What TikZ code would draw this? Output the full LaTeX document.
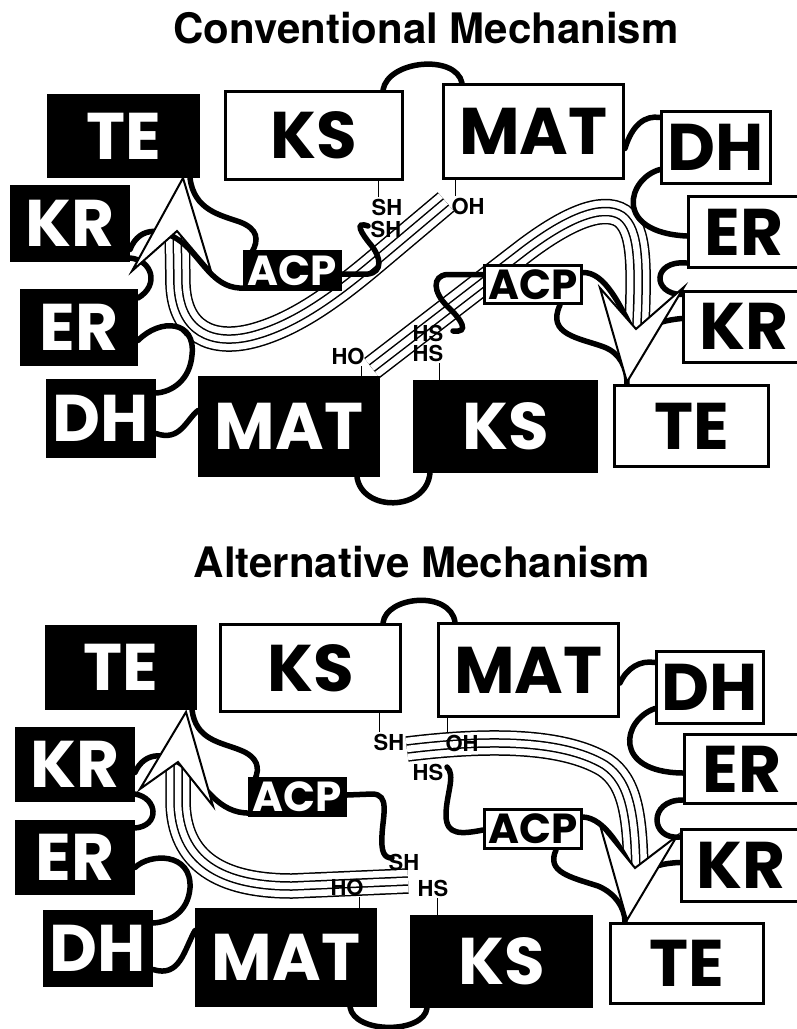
\documentclass[tikz,border=0pt]{standalone}
\usepackage{fontspec}
\setmainfont{TeX Gyre Heros}
\newfontfamily\domfont{Poppins}
\usetikzlibrary{calc}

\tikzset{
  dom/.style={line width=3pt, inner sep=0pt, font=\domfont\bfseries\fontsize{66}{66}\selectfont},
  wdom/.style={dom, draw=black, fill=white, text=black},
  bdom/.style={dom, draw=black, fill=black, text=white},
  domtext/.style={inner sep=0pt, font=\domfont\bfseries\fontsize{66}{66}\selectfont},
  acpdom/.style={font=\domfont\bfseries\fontsize{42}{42}\selectfont},
  tether/.style={line width=5.5pt, line cap=round},
  tick/.style={line width=1pt},
  thiol/.style={font=\bfseries\fontsize{22}{22}\selectfont, inner sep=0pt},
  heading/.style={font=\bfseries\fontsize{42}{42}\selectfont},
  pointer/.style={draw=black, fill=white, line width=2pt, line join=miter},
}

% four parallel thin strands following one centre line
\newcommand\strands[1]{%
  \draw[line width=25.5pt] #1;
  \draw[white, line width=22.5pt] #1;
  \draw[line width=9.5pt] #1;
  \draw[white, line width=6.5pt] #1;
}

\begin{document}
\begin{tikzpicture}[x=1pt, y=-1pt]
\useasboundingbox (0,0) rectangle (796,1029);
\fill[white] (0,0) rectangle (796,1029);

% ================= upper panel =================
\node[heading] (ttl1) at (426,28) {Conventional Mechanism};

% strands
\strands{(177,222) -- (178,285) .. controls (180,332) and (212,346) .. (252,336) .. controls (295,325) and (335,295) .. (370,266) -- (446,202)}
\strands{(372,368) -- (520,254) .. controls (565,219) and (602,203) .. (622,216) .. controls (640,230) and (640,265) .. (636,345)}

% domain boxes
\node[bdom, minimum width=150pt, minimum height=81pt] (te1b) at (123.5,136) {TE};
\node[wdom, minimum width=177pt, minimum height=88pt] (ks1w) at (314,135.5) {KS};
\node[wdom, minimum width=180pt, minimum height=94pt] (mat1w) at (533.5,131.5) {MAT};
\node[wdom, minimum width=109pt, minimum height=72pt] (dh1w) at (716,147.5) {DH};
\node[wdom, minimum width=130pt, minimum height=71pt] (er1w) at (753,232) {};
\node[domtext] (er1t) at (744,232) {ER};
\node[wdom, minimum width=135pt, minimum height=71pt] (kr1w) at (750.5,326.5) {};
\node[domtext] (kr1t) at (744,326.5) {KR};
\node[wdom, minimum width=154pt, minimum height=81pt] (te1w) at (691.5,426) {TE};
\node[bdom, minimum width=182pt, minimum height=90pt] (ks1b) at (505.5,426.5) {KS};
\node[bdom, minimum width=179pt, minimum height=98pt] (mat1b) at (289,426.5) {MAT};
\node[bdom, minimum width=107pt, minimum height=76pt] (dh1b) at (101,418.5) {DH};
\node[bdom, minimum width=115pt, minimum height=74pt] (er1b) at (79,327.5) {ER};
\node[bdom, minimum width=117pt, minimum height=74pt] (kr1b) at (70,223.5) {KR};

% arrow-head corners
\coordinate (n1l) at (177,231);
\coordinate (n1r) at (636,329);

% linkers
\draw[tether] ($(ks1w.north east)+(-21,0)$) .. controls (388,60) and (456,54) .. ($(mat1w.north west)+(20,0)$);
\draw[tether] ($(mat1w.east)+(0,17)$) .. controls (632,125) and (645,115) .. ($(dh1w.west)+(0,-30)$);
\draw[tether] ($(dh1w.west)+(0,22)$) .. controls (628,178) and (612,232) .. ($(er1w.west)+(0,4)$);
\draw[tether] ($(er1w.south west)+(0,-6)$) .. controls (652,260) and (652,294) .. ($(kr1w.north west)+(0,5)$);
\draw[tether] ($(kr1w.west)+(0,-8)$) .. controls (668,320) and (652,322) .. ($(n1r)+(0,8)$);
\draw[tether] (583,272.5) .. controls (605,272) and (620,305) .. ($(n1r)+(0,8)$);
\draw[tether] (560,305) .. controls (546,335) and (580,338) .. (604,347) .. controls (620,353) and (627,368) .. ($(te1w.north west)+(14,0)$);
\draw[tether] (483,274.5) -- (447,274.5) .. controls (432,276) and (433,292) .. (447,306) .. controls (462,320) and (470,333) .. (453,331);
\draw[tether] (342,274) -- (368,274) .. controls (383,272) and (381,257) .. (371,245) .. controls (361,233) and (354,221) .. (368,226);
\draw[tether] ($(te1b.south east)+(-10,0)$) .. controls (194,210) and (220,215) .. (240,222) .. controls (258,229) and (259,240) .. (252,252);
\draw[tether] ($(kr1b.east)+(0,26)$) .. controls (140,224) and (166,228) .. (185,245) .. controls (204,262) and (215,290) .. (245,288);
\draw[tether] ($(kr1b.south east)+(0,-4)$) .. controls (152,260) and (160,285) .. ($(er1b.north east)+(0,9)$);
\draw[tether] ($(er1b.east)+(0,13)$) .. controls (160,318) and (196,320) .. (192,355) .. controls (190,380) and (172,392) .. ($(dh1b.north east)+(0,14)$);
\draw[tether] ($(dh1b.east)+(0,15)$) .. controls (180,442) and (186,420) .. ($(mat1b.west)+(0,-16)$);
\draw[tether] ($(mat1b.south east)+(-23,0)$) .. controls (362,512) and (426,512) .. ($(ks1b.south west)+(17,0)$);

% carrier proteins
\node[bdom, acpdom, minimum width=96pt, minimum height=38pt] (acp1b) at (292.5,270.5) {ACP};
\node[wdom, acpdom, minimum width=97pt, minimum height=38pt] (acp1w) at (533,284.5) {ACP};

% thiol / hydroxyl labels
\node[thiol] (sh1) at (387,207) {SH};
\node[thiol] (sh1a) at (386,229) {SH};
\node[thiol] (oh1) at (468,206) {OH};
\node[thiol] (ho1) at (348,356) {HO};
\node[thiol] (hs1a) at (428,333) {HS};
\node[thiol] (hs1) at (428,353) {HS};
\coordinate (k1) at ($(sh1.north west)+(7,-2)$);
\draw[tick] (k1) -- (k1 |- ks1w.south);
\coordinate (k2) at ($(oh1.north west)+(4,-2)$);
\draw[tick] (k2) -- (k2 |- mat1w.south);
\coordinate (k3) at ($(ho1.south east)+(-3,2)$);
\draw[tick] (k3) -- (k3 |- mat1b.north);
\coordinate (k4) at ($(hs1.south east)+(-4,2)$);
\draw[tick] (k4) -- (k4 |- ks1b.north);

% movement arrow heads
\draw[pointer] ($(te1b.south east)+(-17,0)$) -- (211,271) -- (n1l) -- (132,271) -- cycle;
\draw[pointer] ($(te1w.north west)+(14,-2)$) -- (600,288) -- (n1r) -- (684,287) -- cycle;

% ================= lower panel =================
\node[heading] (ttl2) at (422,562) {Alternative Mechanism};

\strands{(178,752) -- (178,800) .. controls (178,862) and (222,886) .. (292,886) -- (408,881)}
\strands{(407,749) .. controls (480,740) and (560,738) .. (605,765) .. controls (630,782) and (636,815) .. (636,885)}

\node[bdom, minimum width=149pt, minimum height=82pt] (te2b) at (121,667.5) {TE};
\node[wdom, minimum width=180pt, minimum height=87pt] (ks2w) at (310.5,668) {KS};
\node[wdom, minimum width=180pt, minimum height=93pt] (mat2w) at (528.5,670) {MAT};
\node[wdom, minimum width=107pt, minimum height=72pt] (dh2w) at (710,687.5) {DH};
\node[wdom, minimum width=125pt, minimum height=69pt] (er2w) at (746.5,769) {};
\node[domtext] (er2t) at (742,769) {ER};
\node[wdom, minimum width=128pt, minimum height=72pt] (kr2w) at (745,865.5) {};
\node[domtext] (kr2t) at (741,865.5) {KR};
\node[wdom, minimum width=153pt, minimum height=80pt] (te2w) at (687,963.5) {TE};
\node[bdom, minimum width=180pt, minimum height=90pt] (ks2b) at (501.5,961.5) {KS};
\node[bdom, minimum width=179pt, minimum height=96pt] (mat2b) at (286,957.5) {MAT};
\node[bdom, minimum width=107pt, minimum height=74pt] (dh2b) at (98,948.5) {DH};
\node[bdom, minimum width=117pt, minimum height=72pt] (er2b) at (75,857.5) {ER};
\node[bdom, minimum width=117pt, minimum height=72pt] (kr2b) at (75,764.5) {KR};

\coordinate (n2l) at (178,762);
\coordinate (n2r) at (635,868);

\draw[tether] ($(ks2w.north east)+(-19,0)$) .. controls (386,596) and (450,590) .. ($(mat2w.north west)+(18,0)$);
\draw[tether] ($(mat2w.east)+(0,13)$) .. controls (627,668) and (640,660) .. ($(dh2w.west)+(0,-25)$);
\draw[tether] ($(dh2w.west)+(0,21)$) .. controls (622,720) and (612,772) .. ($(er2w.west)+(0,4)$);
\draw[tether] ($(er2w.south west)+(0,-5)$) .. controls (648,800) and (650,840) .. ($(kr2w.north west)+(0,9)$);
\draw[tether] ($(kr2w.west)+(0,-3)$) .. controls (665,863) and (650,866) .. ($(n2r)+(1,8)$);
\draw[tether] (583,817) .. controls (605,818) and (622,850) .. ($(n2r)+(1,8)$);
\draw[tether] (556,850) .. controls (546,872) and (570,877) .. (598,886) .. controls (615,893) and (625,908) .. ($(te2w.north west)+(16,0)$);
\draw[tether] (483,830) .. controls (462,834) and (446,836) .. (446,815) .. controls (446,795) and (456,775) .. (447,767);
\draw[tether] (347,795) -- (372,794) .. controls (390,794) and (383,815) .. (382,835) .. controls (381,852) and (384,858) .. (392,858);
\draw[tether] ($(te2b.south east)+(-5,0)$) .. controls (196,740) and (220,742) .. (240,750) .. controls (258,757) and (260,768) .. (255,779);
\draw[tether] ($(kr2b.east)+(0,8)$) .. controls (145,750) and (168,752) .. (186,768) .. controls (204,784) and (218,814) .. (250,813);
\draw[tether] ($(kr2b.south east)+(0,-8)$) .. controls (158,798) and (160,826) .. ($(er2b.north east)+(0,8)$);
\draw[tether] ($(er2b.east)+(0,10)$) .. controls (150,853) and (192,852) .. (190,888) .. controls (188,912) and (170,922) .. ($(dh2b.north east)+(0,13)$);
\draw[tether] ($(dh2b.east)+(0,21)$) .. controls (180,978) and (184,950) .. ($(mat2b.west)+(0,-27)$);
\draw[tether] ($(mat2b.south east)+(-27,0)$) .. controls (354,1034) and (424,1034) .. ($(ks2b.south west)+(17,0)$);

\node[bdom, acpdom, minimum width=96pt, minimum height=37pt] (acp2b) at (297.5,797) {ACP};
\node[wdom, acpdom, minimum width=97pt, minimum height=39pt] (acp2w) at (533,829) {ACP};

\node[thiol] (sh2) at (389,742) {SH};
\node[thiol] (oh2) at (462,743) {OH};
\node[thiol] (hs2a) at (428,772) {HS};
\node[thiol] (sh2a) at (404,862) {SH};
\node[thiol] (ho2) at (347,887) {HO};
\node[thiol] (hs2) at (433,888) {HS};
\coordinate (k5) at ($(sh2.north west)+(6,-2)$);
\draw[tick] (k5) -- (k5 |- ks2w.south);
\coordinate (k6) at ($(oh2.north west)+(2,-2)$);
\draw[tick] (k6) -- (k6 |- mat2w.south);
\coordinate (k7) at ($(ho2.south east)+(-4,2)$);
\draw[tick] (k7) -- (k7 |- mat2b.north);
\coordinate (k8) at ($(hs2.south east)+(-11,2)$);
\draw[tick] (k8) -- (k8 |- ks2b.north);

\draw[pointer] ($(te2b.south east)+(-11,2)$) -- (213,806) -- (n2l) -- (140,789) -- cycle;
\draw[pointer] ($(te2w.north west)+(18,-2)$) -- (600,825) -- (n2r) -- (677,836) -- cycle;
\end{tikzpicture}
\end{document}
